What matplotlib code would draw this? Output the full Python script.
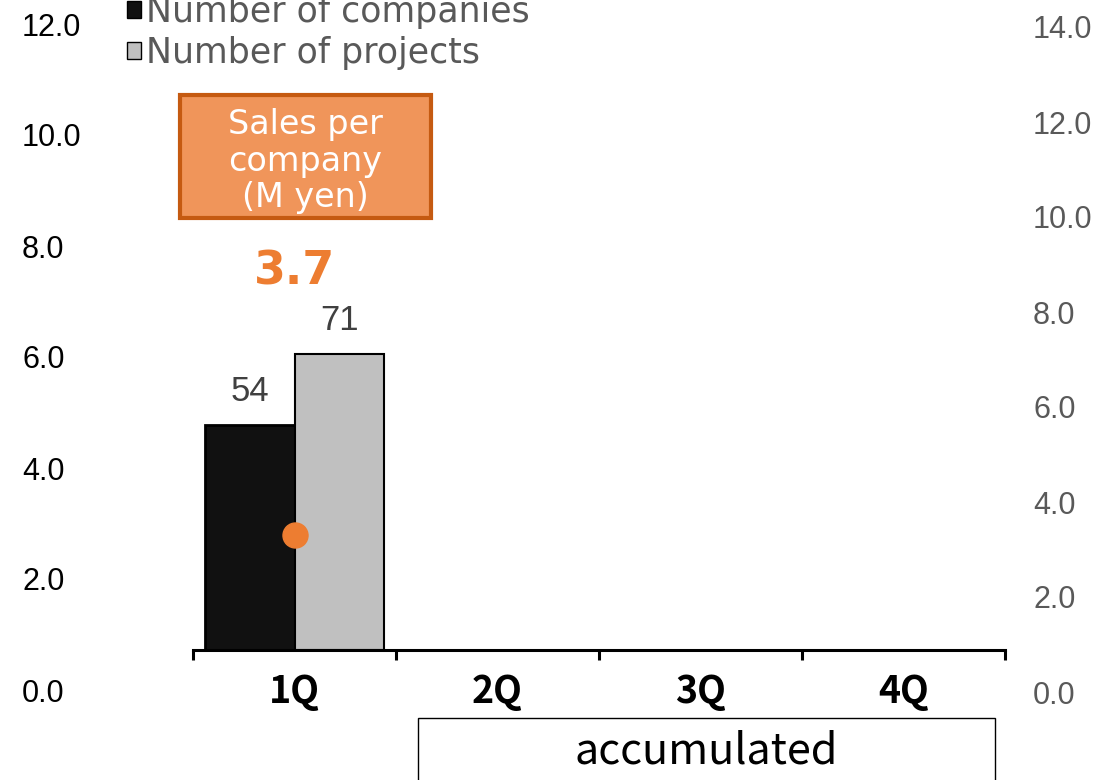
import matplotlib
matplotlib.use("Agg")
import matplotlib.pyplot as plt
from matplotlib.patches import Patch, Rectangle

quarters = ["1Q", "2Q", "3Q", "4Q"]
companies = [54]
projects = [71]
sales_per_company = [3.7]
left_ticks = [0, 2, 4, 6, 8, 10, 12]
right_ticks = [0, 2, 4, 6, 8, 10, 12, 14]

W, H = 1112, 780
fig = plt.figure(figsize=(W / 100, H / 100), dpi=100)


def fx(px):
    return px / W


def fy(py):
    return 1 - py / H


# bars
ax = fig.add_axes([fx(193), fy(650), fx(1005) - fx(193), fy(0) - fy(650)])
ax.set_xlim(-0.5, 3.5)
ax.set_ylim(0, 156)
xc = list(range(len(companies)))
b1 = ax.bar([x - 0.22 for x in xc], companies, width=0.44, color="#111111",
            edgecolor="black", linewidth=2, label="Number of companies")
b2 = ax.bar([x + 0.22 for x in xc], projects, width=0.44, color="#c0c0c0",
            edgecolor="black", linewidth=1.5, label="Number of projects")
ax.bar_label(b1, padding=12, fontsize=25, color="#404040", family="Liberation Sans")
ax.bar_label(b2, padding=12, fontsize=25, color="#404040", family="Liberation Sans")

for s in ["top", "left", "right"]:
    ax.spines[s].set_visible(False)
ax.spines["bottom"].set_linewidth(2.2)
ax.set_yticks([])
ax.set_xticks(range(len(quarters)))
ax.set_xticklabels(quarters, fontsize=27, family="Noto Sans CJK JP", fontweight="bold")
ax.set_xticks([-0.5, 0.5, 1.5, 2.5, 3.5], minor=True)
ax.tick_params(axis="x", which="major", length=0, pad=16)
ax.tick_params(axis="x", which="minor", length=7, width=2.2)
ax.patch.set_visible(False)

# sales per company (separate scale)
ax2 = ax.twinx()
ax2.set_ylim(0, 20.9)
ax2.plot(xc, sales_per_company, "o", color="#ed7d31", markersize=18)
for x, v in zip(xc, sales_per_company):
    ax2.annotate(f"{v:.1f}", (x, v), xytext=(0, 189), textcoords="offset points",
                 ha="center", va="center", fontsize=33, fontweight="bold", color="#ed7d31")
ax2.axis("off")

# left labels
axl = fig.add_axes([fx(22), fy(690), 0.0001, fy(24) - fy(690)])
axl.set_ylim(0, 12)
axl.set_yticks(left_ticks)
axl.set_yticklabels([f"{t:.1f}" for t in left_ticks], fontsize=22,
                    family="Liberation Sans", color="black")
axl.yaxis.tick_right()
axl.tick_params(length=0, pad=0)
axl.set_xticks([])
for s in axl.spines.values():
    s.set_visible(False)

# right labels
axr = fig.add_axes([fx(1033), fy(692), 0.0001, fy(27) - fy(692)])
axr.set_ylim(0, 14)
axr.set_yticks(right_ticks)
axr.set_yticklabels([f"{t:.1f}" for t in right_ticks], fontsize=22,
                    family="Liberation Sans", color="#595959")
axr.yaxis.tick_right()
axr.tick_params(length=0, pad=0)
axr.set_xticks([])
for s in axr.spines.values():
    s.set_visible(False)

# legend
handles = [Patch(facecolor="#111111", edgecolor="black"),
           Patch(facecolor="#c0c0c0", edgecolor="black")]
fig.legend(handles, ["Number of companies", "Number of projects"],
           loc="upper left", bbox_to_anchor=(fx(110), fy(-22)), frameon=False,
           fontsize=25, labelcolor="#595959", handlelength=0.38, handleheight=0.38,
           handletextpad=0.15, labelspacing=0.2, borderpad=0)

# orange box
fig.patches.append(Rectangle((fx(180), fy(218)), fx(431) - fx(180), fy(95) - fy(218),
                             transform=fig.transFigure, facecolor="#f0955a",
                             edgecolor="#c55a11", linewidth=3))
fig.text(fx(305), fy(161), "Sales per\ncompany\n(M yen)", ha="center", va="center",
         fontsize=24, color="white", linespacing=1.15)

# accumulated box
fig.patches.append(Rectangle((fx(418), fy(800)), fx(995) - fx(418), fy(718) - fy(800),
                             transform=fig.transFigure, facecolor="none",
                             edgecolor="black", linewidth=1))
fig.text(fx(706), fy(752), "accumulated", ha="center", va="center",
         fontsize=31, family="Noto Sans CJK JP", color="black")

fig.savefig("out.png", dpi=100)
